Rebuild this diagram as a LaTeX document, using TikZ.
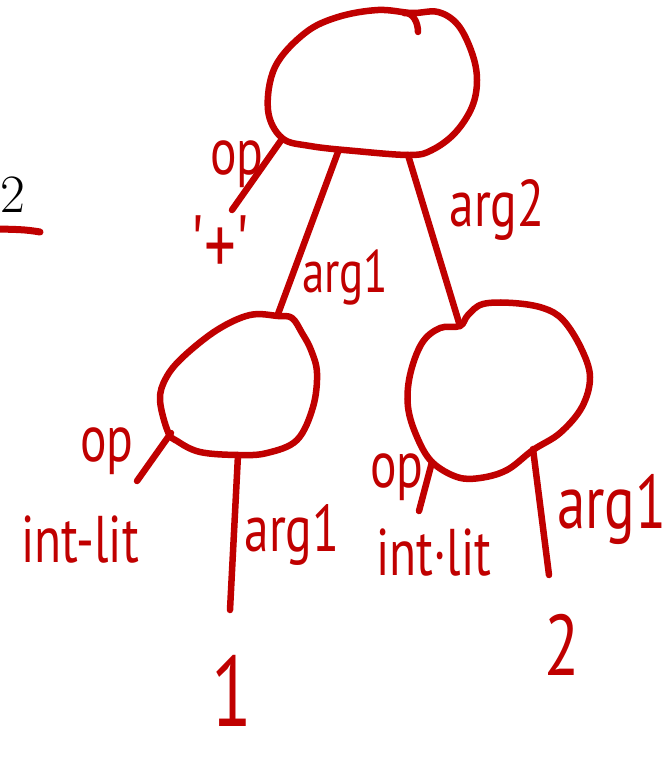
\documentclass[tikz,border=0pt]{standalone}
\usepackage{fontspec}
\newfontfamily\handfont[FakeStretch=0.75]{PT Sans}
\definecolor{hred}{RGB}{192,0,0}
\begin{document}
\begin{tikzpicture}[x=1pt,y=-1pt,
  hand/.style={draw=hred, line width=6.5pt, line cap=round, line join=round},
  lbl/.style={text=hred, inner sep=0pt, anchor=base, text depth=0pt,
    font=\handfont\fontsize{66}{66}\selectfont}]
\useasboundingbox (0,0) rectangle (668,757);
\clip (0,0) rectangle (668,757);
\fill[white] (0,0) rectangle (668,757);

% named attachment points
\coordinate (rootOp) at (282,139);
\coordinate (rootA1) at (338,152);
\coordinate (rootA2) at (408,155);
\coordinate (lTop) at (278,314);
\coordinate (lOp) at (171,433);
\coordinate (lA1) at (238,455);
\coordinate (rTop) at (460,326);
\coordinate (rOp) at (432,462);
\coordinate (rA1) at (533,449);
\coordinate (opEnd) at (232,210);
\coordinate (lOpEnd) at (137,481);
\coordinate (lA1End) at (230,610);
\coordinate (rOpEnd) at (419,511);
\coordinate (rA1End) at (549,575);

% root blob
\draw[hand] plot[smooth cycle, tension=0.6] coordinates {
  (282,138) (268,110) (275,67) (305,33) (338,17) (378,10) (412,13)
  (438,12) (458,25) (472,53) (477,80) (472,107) (455,133) (432,150)
  (410,155) (355,151) (310,146)};
\draw[hand] (404,13) to[out=5,in=90] (418,32);

% left blob
\draw[hand] plot[smooth cycle, tension=0.6] coordinates {
  (168,432) (160,400) (166,378) (183,357) (217,330) (250,315)
  (278,316) (292,318) (302,333) (311,350) (317,373) (313,407)
  (297,440) (267,453) (238,455) (200,452) (177,441)};

% right blob
\draw[hand] plot[smooth cycle, tension=0.6] coordinates {
  (460,326) (440,328) (422,343) (410,375) (408,407) (417,437)
  (432,462) (457,477) (480,478) (507,470) (533,450) (560,433)
  (582,407) (590,377) (581,348) (563,320) (543,308) (513,303)
  (483,304) (468,315)};

% connectors
\draw[hand] (rootOp) -- (opEnd);
\draw[hand] (rootA1) -- (lTop);
\draw[hand] (rootA2) -- (rTop);
\draw[hand] (lOp) -- (lOpEnd);
\draw[hand] (lA1) -- (lA1End);
\draw[hand] (rOp) -- (rOpEnd);
\draw[hand] (rA1) -- (rA1End);

% labels
\node[lbl] (lopRoot) at (237,174) {op};
\node[lbl, font=\handfont\fontsize{84}{84}\selectfont] (lplus) at (220,274) {\char"0027+\char"0027};
\node[lbl, anchor=base west, font=\handfont\fontsize{60}{60}\selectfont] (larg1) at (302,292) {arg1};
\node[lbl] (larg2) at (497,226) {arg2};
\node[lbl] (lopL) at (107,461) {op};
\node[lbl] (lintL) at (80,562) {int-lit};
\node[lbl] (largL) at (292,551) {arg1};
\node[lbl] (lopR) at (397,487) {op};
\node[lbl] (lintR) at (434,575) {int·lit};
\node[lbl, font=\handfont\fontsize{76}{76}\selectfont] (largR) at (612,528) {arg1};
\node[lbl, font=\handfont\fontsize{100}{100}\selectfont] (vone) at (232,726) {1};
\node[lbl, font=\handfont\fontsize{86}{86}\selectfont] (vtwo) at (562,675) {2};

% left fragment
\node[inner sep=0pt, anchor=base, text depth=0pt, font=\fontsize{54}{54}\selectfont] (frag) at (13,212) {2};
\coordinate (ulA) at (0,229);
\coordinate (ulB) at (40,232);
\draw[hand, line width=7pt] (ulA) to[out=-2,in=170] (ulB);
\end{tikzpicture}
\end{document}
